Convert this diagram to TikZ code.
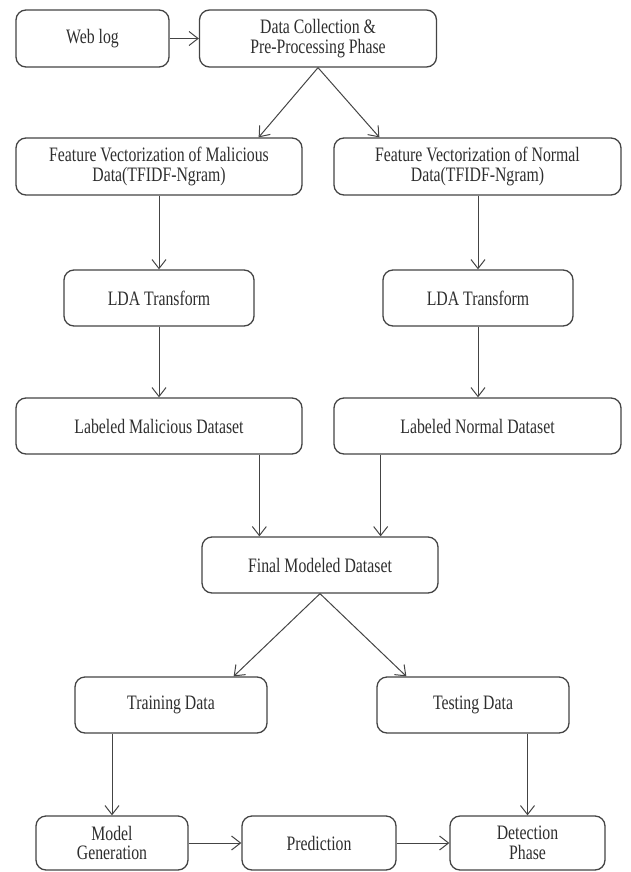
\documentclass[tikz,border=0pt]{standalone}
\usepackage{fontspec}
\setmainfont{Liberation Serif}[FakeStretch=0.77]
\usepackage{tikz}
\usetikzlibrary{arrows.meta}
\usetikzlibrary{positioning}
\definecolor{linegray}{HTML}{444444}
\definecolor{textgray}{HTML}{2E2E2E}
\tikzset{
	block/.style={draw=linegray, line width=1.3pt, rounded corners=10pt, align=center,
		inner sep=0pt, text=textgray, font=\fontsize{20.5}{19.5}\selectfont,
		minimum height=56pt},
	flow/.style={draw=linegray, line width=1pt, -{Straight Barb[length=9pt,width=14pt,line width=1pt]}}
}
\begin{document}
\begin{tikzpicture}[x=1pt, y=-1pt]
	\useasboundingbox (0,0) rectangle (631,872);
	\node[block, minimum width=153pt, minimum height=57pt] (weblog) at (92.5,38.5){Web log};%0
	\node[block, minimum width=237pt, minimum height=57pt] (collect) at (318,38.5){Data Collection \&\\Pre-Processing Phase};%1
	\node[block, minimum width=286pt, minimum height=57pt] (featmal) at (159,166.5){Feature Vectorization of Malicious\\Data(TFIDF-Ngram)};%2
	\node[block, minimum width=287pt, minimum height=57pt] (featnor) at (477.5,166.5){Feature Vectorization of Normal\\Data(TFIDF-Ngram)};%3
	\node[block, minimum width=190pt] (ldamal) at (159,298){LDA Transform};%4
	\node[block, minimum width=190pt] (ldanor) at (478,298){LDA Transform};%5
	\node[block, minimum width=286pt] (labmal) at (159,426){Labeled Malicious Dataset};%6
	\node[block, minimum width=287pt] (labnor) at (477.5,426){Labeled Normal Dataset};%7
	\node[block, minimum width=236pt] (final) at (320,565){Final Modeled Dataset};%8
	\node[block, minimum width=192pt] (train) at (171,705){Training Data};%9
	\node[block, minimum width=192pt] (test) at (473,705){Testing Data};%10
	\node[block, minimum width=152pt, minimum height=54pt] (modgen) at (112,843){Model\\Generation};%11
	\node[block, minimum width=154pt, minimum height=54pt] (predict) at (319,843){Prediction};%12
	\node[block, minimum width=155pt, minimum height=54pt] (detect) at (527.5,843){Detection\\Phase};%13
	\draw[flow] (weblog) -- (collect);
	\draw[flow] (collect.south) -- ([xshift=-44pt]featmal.north east);
	\draw[flow] (collect.south) -- ([xshift=46pt]featnor.north west);
	\draw[flow] (ldamal.north |- featmal.south) -- (ldamal.north);
	\draw[flow] (ldanor.north |- featnor.south) -- (ldanor.north);
	\draw[flow] (ldamal) -- (labmal);
	\draw[flow] (ldanor.south) -- (ldanor.south |- labnor.north);
	\coordinate (inmal) at ([xshift=58pt]final.north west);
	\coordinate (innor) at ([xshift=-58pt]final.north east);
	\draw[flow] (labmal.south -| inmal) -- (inmal);
	\draw[flow] (labnor.south -| innor) -- (innor);
	\draw[flow] (final.south) -- ([xshift=-34pt]train.north east);
	\draw[flow] (final.south) -- ([xshift=30pt]test.north west);
	\draw[flow] (modgen.north |- train.south) -- (modgen.north);
	\draw[flow] (detect.north |- test.south) -- (detect.north);
	\draw[flow] (modgen) -- (predict);
	\draw[flow] (predict) -- (detect);
\end{tikzpicture}
\end{document}
